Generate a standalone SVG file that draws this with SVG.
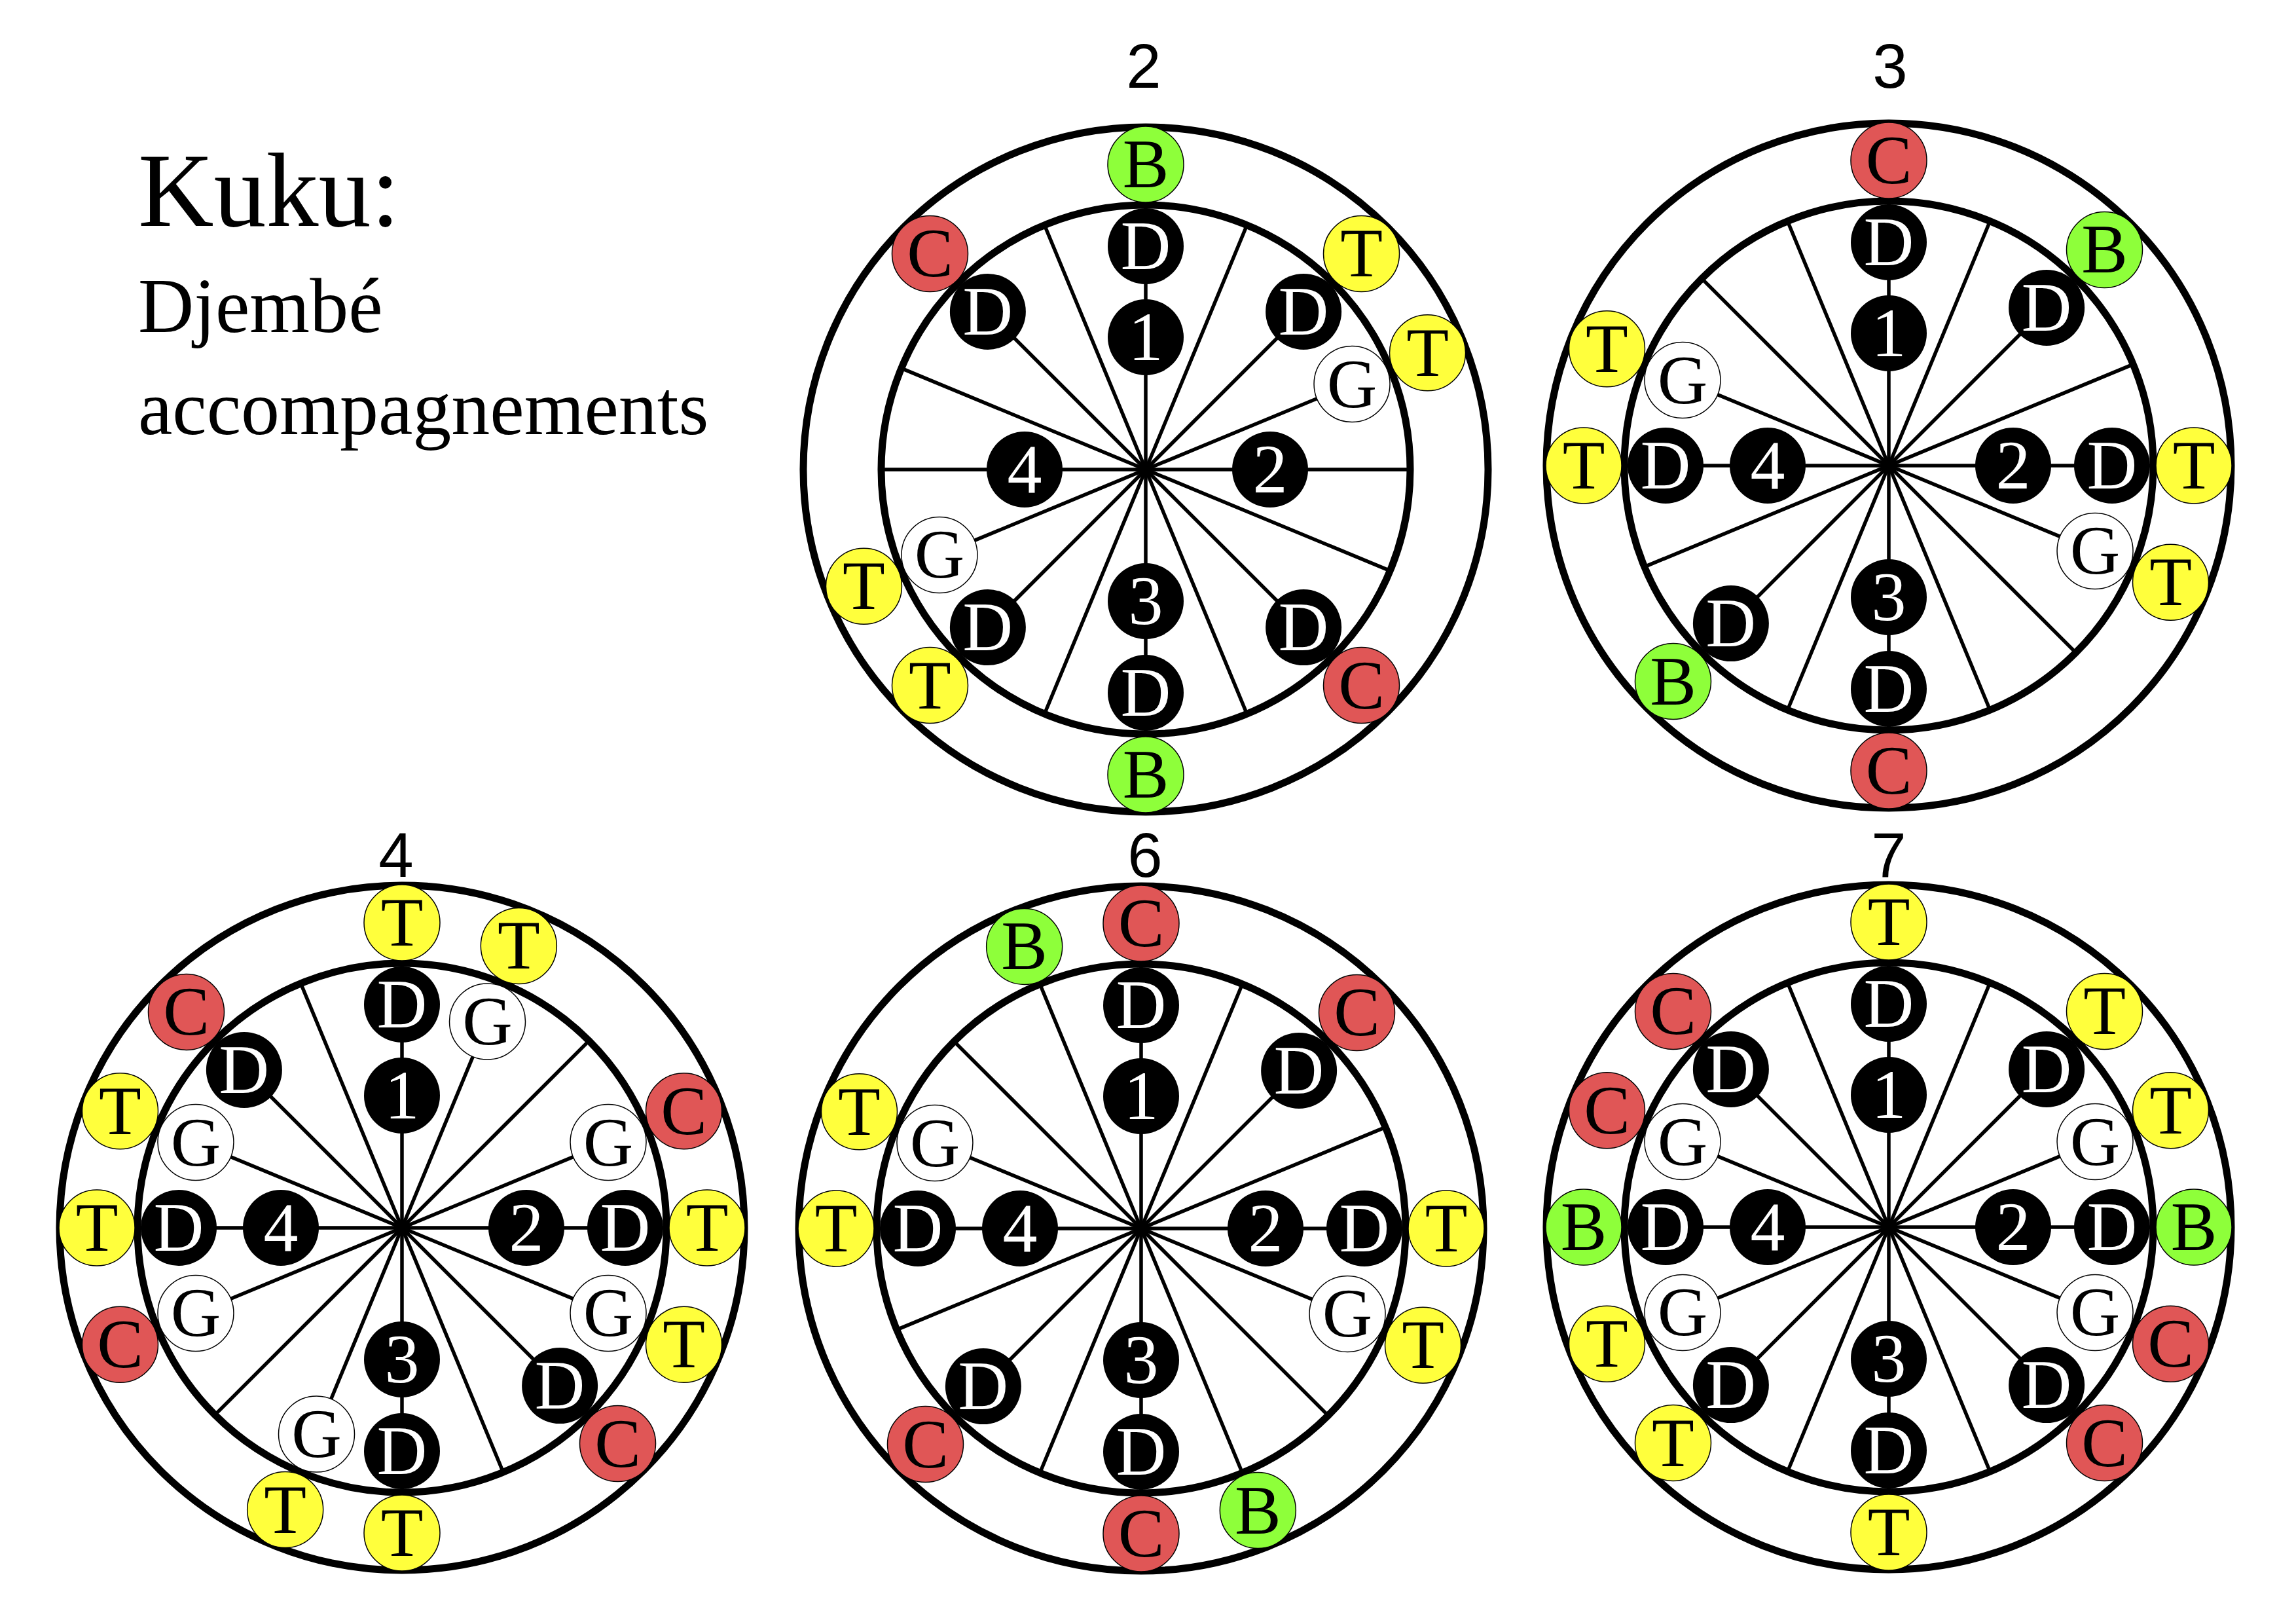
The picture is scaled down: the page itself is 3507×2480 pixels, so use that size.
<svg xmlns="http://www.w3.org/2000/svg" xmlns:xlink="http://www.w3.org/1999/xlink" width="3507" height="2480" viewBox="0 0 3507 2480">
<style>
.wheel circle{fill:none;stroke:#000;stroke-width:11}
.wheel line{stroke:#000;stroke-width:5.5}
.nd circle{stroke:#000;stroke-width:1.5}
.nd text{font-family:"Liberation Serif","Times New Roman",serif;font-size:106px;text-anchor:middle;fill:#000}
.k circle{fill:#000;stroke:none}
.k text{fill:#fff}
.g circle{fill:#fff}
.t circle{fill:#FFFF3C}
.c circle{fill:#E05656}
.b circle{fill:#8EFF3A}
.lbl{font-family:"Liberation Sans",Arial,sans-serif;font-size:96px;text-anchor:middle;fill:#000}
.title{font-family:"Liberation Serif","Times New Roman",serif;fill:#000}
</style>
<defs>
<g id="wheel" class="wheel">
<g id="spokes">
<line x1="0" y1="-404" x2="0" y2="404"/>
<line x1="0" y1="-404" x2="0" y2="404" transform="rotate(22.5)"/>
<line x1="0" y1="-404" x2="0" y2="404" transform="rotate(45)"/>
<line x1="0" y1="-404" x2="0" y2="404" transform="rotate(67.5)"/>
<line x1="0" y1="-404" x2="0" y2="404" transform="rotate(90)"/>
<line x1="0" y1="-404" x2="0" y2="404" transform="rotate(112.5)"/>
<line x1="0" y1="-404" x2="0" y2="404" transform="rotate(135)"/>
<line x1="0" y1="-404" x2="0" y2="404" transform="rotate(157.5)"/>
</g>
<circle r="404"/>
<circle r="523"/>
</g>
</defs>

<g id="title" class="title">
<text x="211" y="345" font-size="160">Kuku:</text>
<text x="211" y="507" font-size="118">Djembé</text>
<text x="211" y="663" font-size="118">accompagnements</text>
</g>

<g id="labels" class="lbl">
<text x="1747" y="134">2</text>
<text x="2887" y="134">3</text>
<text x="605" y="1339">4</text>
<text x="1749" y="1339">6</text>
<text x="2885" y="1339">7</text>
</g>

<!-- Diagram 2 -->
<g id="diagram-2" transform="translate(1750,717)">
<g id="d2-connectors"><use href="#wheel" xlink:href="#wheel"/></g>
<g id="d2-n1" class="nd k" transform="rotate(0) translate(0,-202) rotate(0)"><circle r="58"/><text y="35">1</text></g>
<g id="d2-n2" class="nd k" transform="rotate(90) translate(0,-190) rotate(-90)"><circle r="58"/><text y="35">2</text></g>
<g id="d2-n3" class="nd k" transform="rotate(180) translate(0,-201) rotate(-180)"><circle r="58"/><text y="35">3</text></g>
<g id="d2-n4" class="nd k" transform="rotate(270) translate(0,-185) rotate(-270)"><circle r="58"/><text y="35">4</text></g>
<g id="d2-i0" class="nd k" transform="rotate(0) translate(0,-341) rotate(0)"><circle r="58"/><text y="35">D</text></g>
<g id="d2-i45" class="nd k" transform="rotate(45) translate(0,-341) rotate(-45)"><circle r="58"/><text y="35">D</text></g>
<g id="d2-i67" class="nd g" transform="rotate(67.5) translate(0,-341) rotate(-67.5)"><circle r="58"/><text y="35">G</text></g>
<g id="d2-i135" class="nd k" transform="rotate(135) translate(0,-341) rotate(-135)"><circle r="58"/><text y="35">D</text></g>
<g id="d2-i180" class="nd k" transform="rotate(180) translate(0,-341) rotate(-180)"><circle r="58"/><text y="35">D</text></g>
<g id="d2-i225" class="nd k" transform="rotate(225) translate(0,-341) rotate(-225)"><circle r="58"/><text y="35">D</text></g>
<g id="d2-i247" class="nd g" transform="rotate(247.5) translate(0,-341) rotate(-247.5)"><circle r="58"/><text y="35">G</text></g>
<g id="d2-i315" class="nd k" transform="rotate(315) translate(0,-341) rotate(-315)"><circle r="58"/><text y="35">D</text></g>
<g id="d2-o0" class="nd b" transform="rotate(0) translate(0,-466) rotate(0)"><circle r="58"/><text y="35">B</text></g>
<g id="d2-o45" class="nd t" transform="rotate(45) translate(0,-466) rotate(-45)"><circle r="58"/><text y="35">T</text></g>
<g id="d2-o67" class="nd t" transform="rotate(67.5) translate(0,-466) rotate(-67.5)"><circle r="58"/><text y="35">T</text></g>
<g id="d2-o135" class="nd c" transform="rotate(135) translate(0,-466) rotate(-135)"><circle r="58"/><text y="35">C</text></g>
<g id="d2-o180" class="nd b" transform="rotate(180) translate(0,-466) rotate(-180)"><circle r="58"/><text y="35">B</text></g>
<g id="d2-o225" class="nd t" transform="rotate(225) translate(0,-466) rotate(-225)"><circle r="58"/><text y="35">T</text></g>
<g id="d2-o247" class="nd t" transform="rotate(247.5) translate(0,-466) rotate(-247.5)"><circle r="58"/><text y="35">T</text></g>
<g id="d2-o315" class="nd c" transform="rotate(315) translate(0,-466) rotate(-315)"><circle r="58"/><text y="35">C</text></g>
</g>

<!-- Diagram 3 -->
<g id="diagram-3" transform="translate(2885,711)">
<g id="d3-connectors"><use href="#wheel" xlink:href="#wheel"/></g>
<g id="d3-n1" class="nd k" transform="rotate(0) translate(0,-202) rotate(0)"><circle r="58"/><text y="35">1</text></g>
<g id="d3-n2" class="nd k" transform="rotate(90) translate(0,-190) rotate(-90)"><circle r="58"/><text y="35">2</text></g>
<g id="d3-n3" class="nd k" transform="rotate(180) translate(0,-201) rotate(-180)"><circle r="58"/><text y="35">3</text></g>
<g id="d3-n4" class="nd k" transform="rotate(270) translate(0,-185) rotate(-270)"><circle r="58"/><text y="35">4</text></g>
<g id="d3-i0" class="nd k" transform="rotate(0) translate(0,-341) rotate(0)"><circle r="58"/><text y="35">D</text></g>
<g id="d3-i45" class="nd k" transform="rotate(45) translate(0,-341) rotate(-45)"><circle r="58"/><text y="35">D</text></g>
<g id="d3-i90" class="nd k" transform="rotate(90) translate(0,-341) rotate(-90)"><circle r="58"/><text y="35">D</text></g>
<g id="d3-i112" class="nd g" transform="rotate(112.5) translate(0,-341) rotate(-112.5)"><circle r="58"/><text y="35">G</text></g>
<g id="d3-i180" class="nd k" transform="rotate(180) translate(0,-341) rotate(-180)"><circle r="58"/><text y="35">D</text></g>
<g id="d3-i225" class="nd k" transform="rotate(225) translate(0,-341) rotate(-225)"><circle r="58"/><text y="35">D</text></g>
<g id="d3-i270" class="nd k" transform="rotate(270) translate(0,-341) rotate(-270)"><circle r="58"/><text y="35">D</text></g>
<g id="d3-i292" class="nd g" transform="rotate(292.5) translate(0,-341) rotate(-292.5)"><circle r="58"/><text y="35">G</text></g>
<g id="d3-o0" class="nd c" transform="rotate(0) translate(0,-466) rotate(0)"><circle r="58"/><text y="35">C</text></g>
<g id="d3-o45" class="nd b" transform="rotate(45) translate(0,-466) rotate(-45)"><circle r="58"/><text y="35">B</text></g>
<g id="d3-o90" class="nd t" transform="rotate(90) translate(0,-466) rotate(-90)"><circle r="58"/><text y="35">T</text></g>
<g id="d3-o112" class="nd t" transform="rotate(112.5) translate(0,-466) rotate(-112.5)"><circle r="58"/><text y="35">T</text></g>
<g id="d3-o180" class="nd c" transform="rotate(180) translate(0,-466) rotate(-180)"><circle r="58"/><text y="35">C</text></g>
<g id="d3-o225" class="nd b" transform="rotate(225) translate(0,-466) rotate(-225)"><circle r="58"/><text y="35">B</text></g>
<g id="d3-o270" class="nd t" transform="rotate(270) translate(0,-466) rotate(-270)"><circle r="58"/><text y="35">T</text></g>
<g id="d3-o292" class="nd t" transform="rotate(292.5) translate(0,-466) rotate(-292.5)"><circle r="58"/><text y="35">T</text></g>
</g>

<!-- Diagram 4 -->
<g id="diagram-4" transform="translate(614,1875)">
<g id="d4-connectors"><use href="#wheel" xlink:href="#wheel"/></g>
<g id="d4-n1" class="nd k" transform="rotate(0) translate(0,-202) rotate(0)"><circle r="58"/><text y="35">1</text></g>
<g id="d4-n2" class="nd k" transform="rotate(90) translate(0,-190) rotate(-90)"><circle r="58"/><text y="35">2</text></g>
<g id="d4-n3" class="nd k" transform="rotate(180) translate(0,-201) rotate(-180)"><circle r="58"/><text y="35">3</text></g>
<g id="d4-n4" class="nd k" transform="rotate(270) translate(0,-185) rotate(-270)"><circle r="58"/><text y="35">4</text></g>
<g id="d4-i0" class="nd k" transform="rotate(0) translate(0,-341) rotate(0)"><circle r="58"/><text y="35">D</text></g>
<g id="d4-i22" class="nd g" transform="rotate(22.5) translate(0,-341) rotate(-22.5)"><circle r="58"/><text y="35">G</text></g>
<g id="d4-i67" class="nd g" transform="rotate(67.5) translate(0,-341) rotate(-67.5)"><circle r="58"/><text y="35">G</text></g>
<g id="d4-i90" class="nd k" transform="rotate(90) translate(0,-341) rotate(-90)"><circle r="58"/><text y="35">D</text></g>
<g id="d4-i112" class="nd g" transform="rotate(112.5) translate(0,-341) rotate(-112.5)"><circle r="58"/><text y="35">G</text></g>
<g id="d4-i135" class="nd k" transform="rotate(135) translate(0,-341) rotate(-135)"><circle r="58"/><text y="35">D</text></g>
<g id="d4-i180" class="nd k" transform="rotate(180) translate(0,-341) rotate(-180)"><circle r="58"/><text y="35">D</text></g>
<g id="d4-i202" class="nd g" transform="rotate(202.5) translate(0,-341) rotate(-202.5)"><circle r="58"/><text y="35">G</text></g>
<g id="d4-i247" class="nd g" transform="rotate(247.5) translate(0,-341) rotate(-247.5)"><circle r="58"/><text y="35">G</text></g>
<g id="d4-i270" class="nd k" transform="rotate(270) translate(0,-341) rotate(-270)"><circle r="58"/><text y="35">D</text></g>
<g id="d4-i292" class="nd g" transform="rotate(292.5) translate(0,-341) rotate(-292.5)"><circle r="58"/><text y="35">G</text></g>
<g id="d4-i315" class="nd k" transform="rotate(315) translate(0,-341) rotate(-315)"><circle r="58"/><text y="35">D</text></g>
<g id="d4-o0" class="nd t" transform="rotate(0) translate(0,-466) rotate(0)"><circle r="58"/><text y="35">T</text></g>
<g id="d4-o22" class="nd t" transform="rotate(22.5) translate(0,-466) rotate(-22.5)"><circle r="58"/><text y="35">T</text></g>
<g id="d4-o67" class="nd c" transform="rotate(67.5) translate(0,-466) rotate(-67.5)"><circle r="58"/><text y="35">C</text></g>
<g id="d4-o90" class="nd t" transform="rotate(90) translate(0,-466) rotate(-90)"><circle r="58"/><text y="35">T</text></g>
<g id="d4-o112" class="nd t" transform="rotate(112.5) translate(0,-466) rotate(-112.5)"><circle r="58"/><text y="35">T</text></g>
<g id="d4-o135" class="nd c" transform="rotate(135) translate(0,-466) rotate(-135)"><circle r="58"/><text y="35">C</text></g>
<g id="d4-o180" class="nd t" transform="rotate(180) translate(0,-466) rotate(-180)"><circle r="58"/><text y="35">T</text></g>
<g id="d4-o202" class="nd t" transform="rotate(202.5) translate(0,-466) rotate(-202.5)"><circle r="58"/><text y="35">T</text></g>
<g id="d4-o247" class="nd c" transform="rotate(247.5) translate(0,-466) rotate(-247.5)"><circle r="58"/><text y="35">C</text></g>
<g id="d4-o270" class="nd t" transform="rotate(270) translate(0,-466) rotate(-270)"><circle r="58"/><text y="35">T</text></g>
<g id="d4-o292" class="nd t" transform="rotate(292.5) translate(0,-466) rotate(-292.5)"><circle r="58"/><text y="35">T</text></g>
<g id="d4-o315" class="nd c" transform="rotate(315) translate(0,-466) rotate(-315)"><circle r="58"/><text y="35">C</text></g>
</g>

<!-- Diagram 6 -->
<g id="diagram-6" transform="translate(1743,1876)">
<g id="d6-connectors"><use href="#wheel" xlink:href="#wheel"/></g>
<g id="d6-n1" class="nd k" transform="rotate(0) translate(0,-202) rotate(0)"><circle r="58"/><text y="35">1</text></g>
<g id="d6-n2" class="nd k" transform="rotate(90) translate(0,-190) rotate(-90)"><circle r="58"/><text y="35">2</text></g>
<g id="d6-n3" class="nd k" transform="rotate(180) translate(0,-201) rotate(-180)"><circle r="58"/><text y="35">3</text></g>
<g id="d6-n4" class="nd k" transform="rotate(270) translate(0,-185) rotate(-270)"><circle r="58"/><text y="35">4</text></g>
<g id="d6-i0" class="nd k" transform="rotate(0) translate(0,-341) rotate(0)"><circle r="58"/><text y="35">D</text></g>
<g id="d6-i45" class="nd k" transform="rotate(45) translate(0,-341) rotate(-45)"><circle r="58"/><text y="35">D</text></g>
<g id="d6-i90" class="nd k" transform="rotate(90) translate(0,-341) rotate(-90)"><circle r="58"/><text y="35">D</text></g>
<g id="d6-i112" class="nd g" transform="rotate(112.5) translate(0,-341) rotate(-112.5)"><circle r="58"/><text y="35">G</text></g>
<g id="d6-i180" class="nd k" transform="rotate(180) translate(0,-341) rotate(-180)"><circle r="58"/><text y="35">D</text></g>
<g id="d6-i225" class="nd k" transform="rotate(225) translate(0,-341) rotate(-225)"><circle r="58"/><text y="35">D</text></g>
<g id="d6-i270" class="nd k" transform="rotate(270) translate(0,-341) rotate(-270)"><circle r="58"/><text y="35">D</text></g>
<g id="d6-i292" class="nd g" transform="rotate(292.5) translate(0,-341) rotate(-292.5)"><circle r="58"/><text y="35">G</text></g>
<g id="d6-o0" class="nd c" transform="rotate(0) translate(0,-466) rotate(0)"><circle r="58"/><text y="35">C</text></g>
<g id="d6-o45" class="nd c" transform="rotate(45) translate(0,-466) rotate(-45)"><circle r="58"/><text y="35">C</text></g>
<g id="d6-o90" class="nd t" transform="rotate(90) translate(0,-466) rotate(-90)"><circle r="58"/><text y="35">T</text></g>
<g id="d6-o112" class="nd t" transform="rotate(112.5) translate(0,-466) rotate(-112.5)"><circle r="58"/><text y="35">T</text></g>
<g id="d6-o157" class="nd b" transform="rotate(157.5) translate(0,-466) rotate(-157.5)"><circle r="58"/><text y="35">B</text></g>
<g id="d6-o180" class="nd c" transform="rotate(180) translate(0,-466) rotate(-180)"><circle r="58"/><text y="35">C</text></g>
<g id="d6-o225" class="nd c" transform="rotate(225) translate(0,-466) rotate(-225)"><circle r="58"/><text y="35">C</text></g>
<g id="d6-o270" class="nd t" transform="rotate(270) translate(0,-466) rotate(-270)"><circle r="58"/><text y="35">T</text></g>
<g id="d6-o292" class="nd t" transform="rotate(292.5) translate(0,-466) rotate(-292.5)"><circle r="58"/><text y="35">T</text></g>
<g id="d6-o337" class="nd b" transform="rotate(337.5) translate(0,-466) rotate(-337.5)"><circle r="58"/><text y="35">B</text></g>
</g>

<!-- Diagram 7 -->
<g id="diagram-7" transform="translate(2885,1874)">
<g id="d7-connectors"><use href="#wheel" xlink:href="#wheel"/></g>
<g id="d7-n1" class="nd k" transform="rotate(0) translate(0,-202) rotate(0)"><circle r="58"/><text y="35">1</text></g>
<g id="d7-n2" class="nd k" transform="rotate(90) translate(0,-190) rotate(-90)"><circle r="58"/><text y="35">2</text></g>
<g id="d7-n3" class="nd k" transform="rotate(180) translate(0,-201) rotate(-180)"><circle r="58"/><text y="35">3</text></g>
<g id="d7-n4" class="nd k" transform="rotate(270) translate(0,-185) rotate(-270)"><circle r="58"/><text y="35">4</text></g>
<g id="d7-i0" class="nd k" transform="rotate(0) translate(0,-341) rotate(0)"><circle r="58"/><text y="35">D</text></g>
<g id="d7-i45" class="nd k" transform="rotate(45) translate(0,-341) rotate(-45)"><circle r="58"/><text y="35">D</text></g>
<g id="d7-i67" class="nd g" transform="rotate(67.5) translate(0,-341) rotate(-67.5)"><circle r="58"/><text y="35">G</text></g>
<g id="d7-i90" class="nd k" transform="rotate(90) translate(0,-341) rotate(-90)"><circle r="58"/><text y="35">D</text></g>
<g id="d7-i112" class="nd g" transform="rotate(112.5) translate(0,-341) rotate(-112.5)"><circle r="58"/><text y="35">G</text></g>
<g id="d7-i135" class="nd k" transform="rotate(135) translate(0,-341) rotate(-135)"><circle r="58"/><text y="35">D</text></g>
<g id="d7-i180" class="nd k" transform="rotate(180) translate(0,-341) rotate(-180)"><circle r="58"/><text y="35">D</text></g>
<g id="d7-i225" class="nd k" transform="rotate(225) translate(0,-341) rotate(-225)"><circle r="58"/><text y="35">D</text></g>
<g id="d7-i247" class="nd g" transform="rotate(247.5) translate(0,-341) rotate(-247.5)"><circle r="58"/><text y="35">G</text></g>
<g id="d7-i270" class="nd k" transform="rotate(270) translate(0,-341) rotate(-270)"><circle r="58"/><text y="35">D</text></g>
<g id="d7-i292" class="nd g" transform="rotate(292.5) translate(0,-341) rotate(-292.5)"><circle r="58"/><text y="35">G</text></g>
<g id="d7-i315" class="nd k" transform="rotate(315) translate(0,-341) rotate(-315)"><circle r="58"/><text y="35">D</text></g>
<g id="d7-o0" class="nd t" transform="rotate(0) translate(0,-466) rotate(0)"><circle r="58"/><text y="35">T</text></g>
<g id="d7-o45" class="nd t" transform="rotate(45) translate(0,-466) rotate(-45)"><circle r="58"/><text y="35">T</text></g>
<g id="d7-o67" class="nd t" transform="rotate(67.5) translate(0,-466) rotate(-67.5)"><circle r="58"/><text y="35">T</text></g>
<g id="d7-o90" class="nd b" transform="rotate(90) translate(0,-466) rotate(-90)"><circle r="58"/><text y="35">B</text></g>
<g id="d7-o112" class="nd c" transform="rotate(112.5) translate(0,-466) rotate(-112.5)"><circle r="58"/><text y="35">C</text></g>
<g id="d7-o135" class="nd c" transform="rotate(135) translate(0,-466) rotate(-135)"><circle r="58"/><text y="35">C</text></g>
<g id="d7-o180" class="nd t" transform="rotate(180) translate(0,-466) rotate(-180)"><circle r="58"/><text y="35">T</text></g>
<g id="d7-o225" class="nd t" transform="rotate(225) translate(0,-466) rotate(-225)"><circle r="58"/><text y="35">T</text></g>
<g id="d7-o247" class="nd t" transform="rotate(247.5) translate(0,-466) rotate(-247.5)"><circle r="58"/><text y="35">T</text></g>
<g id="d7-o270" class="nd b" transform="rotate(270) translate(0,-466) rotate(-270)"><circle r="58"/><text y="35">B</text></g>
<g id="d7-o292" class="nd c" transform="rotate(292.5) translate(0,-466) rotate(-292.5)"><circle r="58"/><text y="35">C</text></g>
<g id="d7-o315" class="nd c" transform="rotate(315) translate(0,-466) rotate(-315)"><circle r="58"/><text y="35">C</text></g>
</g>
</svg>
